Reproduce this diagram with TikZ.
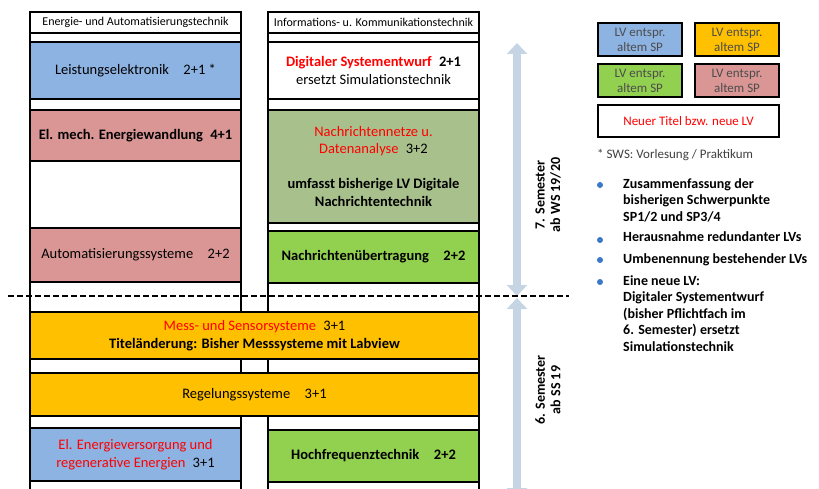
\documentclass[tikz,border=0pt]{standalone}
\usepackage{fontspec}
\setmainfont{Carlito}
\usepackage{xcolor}
\usetikzlibrary{arrows.meta,positioning}

\definecolor{lvblue}{HTML}{8DB3E2}
\definecolor{lvred}{HTML}{D99694}
\definecolor{lvgreen}{HTML}{92D050}
\definecolor{lvolive}{HTML}{A8C08C}
\definecolor{lvyellow}{HTML}{FFC000}
\definecolor{semblue}{HTML}{C6D5E3}
\definecolor{newred}{HTML}{FF0000}
\definecolor{dotblue}{HTML}{3A78C8}

\begin{document}
\begin{tikzpicture}[
  x=1pt,y=-1pt,
  frame/.style={draw,line width=1.7pt,fill=white,anchor=north west,inner sep=0pt,outer sep=0pt},
  cell/.style={frame,align=center,font=\fontsize{14.5}{17.5}\selectfont},
  hdr/.style={cell,font=\fontsize{12}{13}\selectfont,minimum width=211pt,minimum height=21pt},
  lgd/.style={frame,align=center,minimum height=33pt,text=black!70,font=\fontsize{13}{15}\selectfont},
  item/.style={anchor=north west,align=left,inner sep=0pt,font=\fontsize{14}{16.5}\selectfont\bfseries},
  dot/.style={circle,fill=dotblue,inner sep=0pt,minimum size=6pt},
  semarr/.style={draw=semblue,line width=8pt,{Triangle[width=20pt,length=11pt]}-{Triangle[width=20pt,length=11pt]}},
  semlbl/.style={rotate=90,align=center,font=\fontsize{14}{15.5}\selectfont\bfseries},
  cut/.style={line width=1.8pt,dash pattern=on 6pt off 3pt}
]
\useasboundingbox (0,0) rectangle (819,489);
\clip (0,0) rectangle (819,489);

% two study tracks
\node[frame,minimum width=211pt,minimum height=495pt] (colE) at (30,12) {};
\node[frame,minimum width=211pt,minimum height=495pt] (colI) at (268,12) {};
\node[hdr] (hdrE) at (30,12) {Energie- und Automatisierungstechnik};
\node[hdr] (hdrI) at (268,12) {Informations- u. Kommunikationstechnik};

% 7. Semester
\node[cell,fill=lvblue,minimum width=211pt,minimum height=57pt] (leist) at (30,42) {Leistungselektronik\quad 2+1 *};
\node[cell,fill=lvred,minimum width=211pt,minimum height=51pt] (elmech) at (30,110) {\bfseries El. mech. Energiewandlung\enspace 4+1};
\node[cell,fill=lvred,minimum width=211pt,minimum height=54pt] (autom) at (30,228) {Automatisierungssysteme\quad 2+2};
\node[cell,minimum width=211pt,minimum height=57pt] (digi) at (268,42) {\textbf{\textcolor{newred}{Digitaler Systementwurf}\enspace 2+1}\\ersetzt Simulationstechnik};
\node[cell,fill=lvolive,minimum width=211pt,minimum height=113pt] (netze) at (268,110) {\textcolor{newred}{Nachrichtennetze u.}\\\textcolor{newred}{Datenanalyse}\enspace 3+2\\[17.5pt]\textbf{umfasst bisherige LV Digitale}\\\textbf{Nachrichtentechnik}};
\node[cell,fill=lvgreen,minimum width=211pt,minimum height=52pt] (uebtr) at (268,231) {\bfseries Nachrichten\"ubertragung\quad 2+2};

% 6. Semester
\node[cell,fill=lvyellow,minimum width=449pt,minimum height=47pt] (mess) at (30,312) {\textcolor{newred}{Mess- und Sensorsysteme}\enspace 3+1\\\textbf{Titel\"anderung: Bisher Messsysteme mit Labview}};
\node[cell,fill=lvyellow,minimum width=449pt,minimum height=43pt] (regel) at (30,373) {Regelungssysteme\quad 3+1};
\node[cell,fill=lvblue,minimum width=211pt,minimum height=53pt] (enver) at (30,428) {\textcolor{newred}{El. Energieversorgung und}\\\textcolor{newred}{regenerative Energien}\enspace 3+1};
\node[cell,fill=lvgreen,minimum width=211pt,minimum height=52pt] (hf) at (268,430) {\bfseries Hochfrequenztechnik\quad 2+2};

% semester arrows
\coordinate (s7top) at (517,43);
\coordinate (s7bot) at (517,296);
\coordinate (s6top) at (517,298);
\coordinate (s6bot) at (517,499);
\draw[semarr] (s7top) -- (s7bot);
\draw[semarr] (s6top) -- (s6bot);
\node[semlbl] (s7) at (548,195) {7. Semester\\ab WS 19/20};
\node[semlbl] (s6) at (548,390) {6. Semester\\ab SS 19};

\coordinate (cutL) at (8,296);
\coordinate (cutR) at (569,296);
\draw[cut] (cutL) -- (cutR);

% legend
\node[lgd,fill=lvblue,minimum width=84pt] (lgB) at (598,23) {LV entspr.\\altem SP};
\node[lgd,fill=lvyellow,minimum width=84pt] (lgY) at (695,23) {LV entspr.\\altem SP};
\node[lgd,fill=lvgreen,minimum width=84pt] (lgG) at (598,64) {LV entspr.\\altem SP};
\node[lgd,fill=lvred,minimum width=84pt] (lgR) at (695,64) {LV entspr.\\altem SP};
\node[lgd,minimum width=181pt,minimum height=32pt,text=newred] (lgN) at (598,105) {Neuer Titel bzw. neue LV};
\node[anchor=west,inner sep=0pt,text=black!75,font=\fontsize{13}{14}\selectfont] (note) at (597,155) {* SWS: Vorlesung / Praktikum};

% remarks
\node[item] (b1) at (623,178) {Zusammenfassung der\\bisherigen Schwerpunkte\\SP1/2 und SP3/4};
\node[item] (b2) at (623,231) {Herausnahme redundanter LVs};
\node[item] (b3) at (623,253) {Umbenennung bestehender LVs};
\node[item] (b4) at (623,275) {Eine neue LV:\\Digitaler Systementwurf\\(bisher Pflichtfach im\\6. Semester) ersetzt\\Simulationstechnik};
\node[dot] (d1) at (600,185) {};
\node[dot] (d2) at (600,240) {};
\node[dot] (d3) at (600,260) {};
\node[dot] (d4) at (600,282) {};
\end{tikzpicture}
\end{document}
